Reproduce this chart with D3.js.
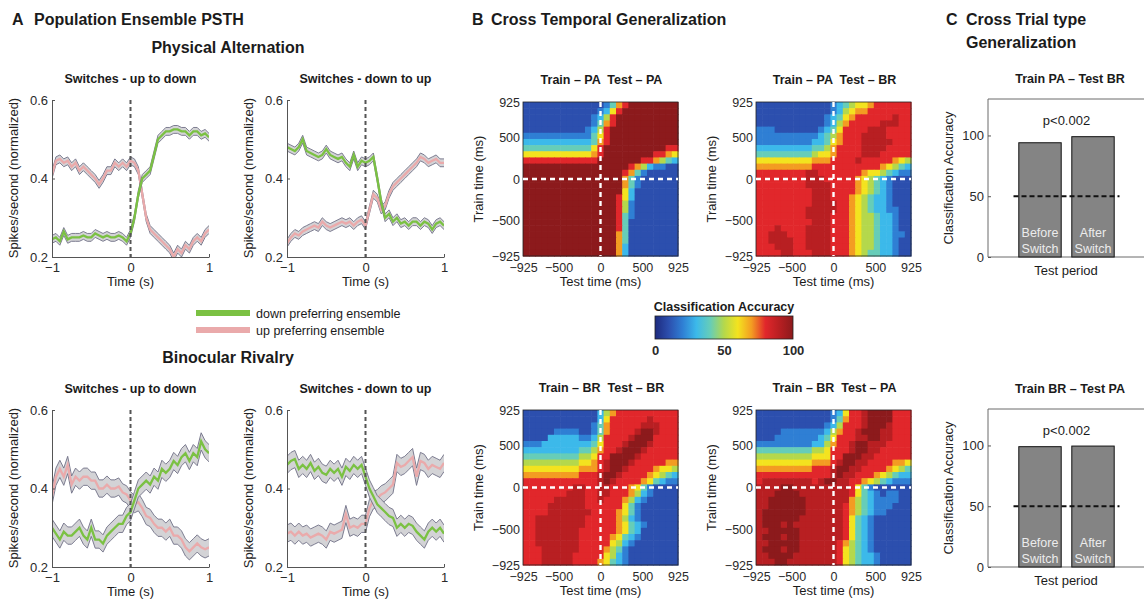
<!DOCTYPE html>
<html>
<head>
<meta charset="utf-8">
<script src="https://cdn.jsdelivr.net/npm/d3@7"></script>
<style>
  body { margin: 0; background: #fff; }
</style>
</head>
<body>
<script>
// ---- PSTH data (normalized spikes/s), time in s ----
const psthTime = [-1, -0.95, -0.9, -0.85, -0.8, -0.75, -0.7, -0.65, -0.6, -0.55, -0.5, -0.45, -0.4, -0.35, -0.3, -0.25, -0.2, -0.15, -0.1, -0.05,
  0, 0.05, 0.1, 0.15, 0.2, 0.25, 0.3, 0.35, 0.4, 0.45, 0.5, 0.55, 0.6, 0.65, 0.7, 0.75, 0.8, 0.85, 0.9, 0.95, 1];
const psthXTicks = [-1, 0, 1];
const psthYTicks = [0.2, 0.4, 0.6];

// physical alternation, switches up -> down
const paUpDownUp = [0.41, 0.445, 0.45, 0.44, 0.445, 0.43, 0.44, 0.42, 0.43, 0.42, 0.41, 0.40, 0.385, 0.40, 0.42, 0.42, 0.44, 0.43, 0.44, 0.43,
  0.445, 0.44, 0.42, 0.36, 0.30, 0.27, 0.26, 0.25, 0.24, 0.23, 0.22, 0.20, 0.22, 0.21, 0.23, 0.22, 0.24, 0.25, 0.24, 0.26, 0.27];
const paUpDownDown = [0.245, 0.25, 0.24, 0.265, 0.245, 0.25, 0.25, 0.25, 0.255, 0.25, 0.25, 0.26, 0.255, 0.25, 0.255, 0.25, 0.25, 0.255, 0.25, 0.24,
  0.26, 0.30, 0.36, 0.40, 0.41, 0.42, 0.46, 0.50, 0.51, 0.52, 0.52, 0.525, 0.525, 0.52, 0.52, 0.51, 0.52, 0.52, 0.51, 0.515, 0.505];
// physical alternation, switches down -> up
const paDownUpDown = [0.48, 0.475, 0.47, 0.48, 0.50, 0.47, 0.465, 0.46, 0.455, 0.46, 0.475, 0.46, 0.455, 0.45, 0.455, 0.44, 0.43, 0.46, 0.43, 0.445,
  0.44, 0.445, 0.455, 0.40, 0.34, 0.30, 0.31, 0.29, 0.30, 0.285, 0.29, 0.28, 0.29, 0.29, 0.28, 0.29, 0.285, 0.27, 0.285, 0.29, 0.28];
const paDownUpUp = [0.235, 0.25, 0.26, 0.255, 0.265, 0.27, 0.275, 0.28, 0.275, 0.29, 0.28, 0.275, 0.28, 0.285, 0.29, 0.285, 0.29, 0.28, 0.29, 0.295,
  0.28, 0.32, 0.36, 0.35, 0.32, 0.33, 0.36, 0.38, 0.39, 0.40, 0.41, 0.42, 0.43, 0.44, 0.455, 0.45, 0.44, 0.445, 0.45, 0.44, 0.44];
// binocular rivalry, switches up -> down
const brUpDownUp = [0.38, 0.43, 0.45, 0.43, 0.46, 0.41, 0.43, 0.42, 0.43, 0.43, 0.42, 0.42, 0.40, 0.40, 0.41, 0.40, 0.40, 0.405, 0.39, 0.385,
  0.37, 0.36, 0.365, 0.35, 0.33, 0.325, 0.31, 0.30, 0.30, 0.29, 0.30, 0.28, 0.28, 0.27, 0.25, 0.24, 0.25, 0.26, 0.25, 0.245, 0.25];
const brUpDownDown = [0.30, 0.285, 0.27, 0.29, 0.28, 0.28, 0.29, 0.30, 0.28, 0.27, 0.30, 0.27, 0.27, 0.26, 0.28, 0.29, 0.30, 0.31, 0.31, 0.33,
  0.34, 0.37, 0.40, 0.41, 0.42, 0.41, 0.43, 0.42, 0.45, 0.44, 0.45, 0.47, 0.46, 0.48, 0.49, 0.47, 0.49, 0.48, 0.52, 0.50, 0.49];
// binocular rivalry, switches down -> up
const brDownUpDown = [0.46, 0.47, 0.475, 0.45, 0.46, 0.45, 0.465, 0.445, 0.455, 0.44, 0.435, 0.45, 0.44, 0.45, 0.43, 0.455, 0.445, 0.46, 0.45, 0.46,
  0.43, 0.40, 0.38, 0.36, 0.35, 0.34, 0.33, 0.325, 0.30, 0.31, 0.30, 0.31, 0.305, 0.29, 0.28, 0.27, 0.29, 0.30, 0.29, 0.30, 0.285];
const brDownUpUp = [0.285, 0.29, 0.28, 0.29, 0.28, 0.285, 0.275, 0.28, 0.285, 0.28, 0.27, 0.29, 0.285, 0.29, 0.295, 0.335, 0.30, 0.305, 0.30, 0.31,
  0.31, 0.35, 0.37, 0.375, 0.385, 0.39, 0.40, 0.41, 0.465, 0.455, 0.46, 0.47, 0.48, 0.43, 0.47, 0.465, 0.45, 0.46, 0.455, 0.45, 0.465];
const semPA = 0.01;
const semBR = 0.022;

// ---- cross temporal generalization: rows = train time (925 -> -925), cols = test time (-925 -> 925)
// one hex digit per cell = accuracy / 10 (0 .. a = 0 .. 100 %), spaces only for reading
const heatTicks = [-925, -500, 0, 500, 925];
const heatPaPa = [
  "11111 11111 11124 78aaa aaaaa", "11111 11111 11236 8aaaa aaaaa", "11111 11111 12358 aaaaa aaaaa",
  "11111 11111 12478 aaaaa aaaaa", "11111 11111 2358a aaaaa aaaaa", "22222 22222 2468a aaaaa aaaaa",
  "33333 33333 3478a aaaaa aaaaa", "44444 44444 468aa aaaaa aaa88", "66666 66666 678aa aaaaa a8876",
  "88888 88888 88aaa aaaa8 87543", "aaaaa aaaaa aaaaa aa875 32211", "aaaaa aaaaa aaaaa a8742 11111",
  "aaaaa aaaaa aaaaa a7421 11111", "aaaaa aaaaa aaaaa a7421 11111", "aaaaa aaaaa aaaaa a6311 11111",
  "aaaaa aaaaa aaaaa 86311 11111", "aaaaa aaaaa aaaaa 85211 11111", "aaaaa aaaaa aaaaa 85211 11111",
  "aaaaa aaaaa aaaaa 84211 11111", "aaaaa aaaaa aaaaa 84111 11111", "aaaaa aaaaa aaaaa 84111 11111",
  "aaaaa aaaaa aaaaa 74111 11111", "aaaaa aaaaa aaaaa 74111 11111", "aaaaa aaaaa aaaaa 73111 11111",
  "aaaaa aaaaa aaaaa 73111 11111"];
const heatPaBr = [
  "11111 11111 11234 56678 88888", "11111 11111 11235 67788 88888", "11111 11111 12346 78888 88988",
  "11111 11111 12357 88888 99988", "22211 11111 23468 88899 98888", "22222 22222 34578 88999 98888",
  "22222 22223 34678 88999 99888", "33333 33334 45788 88999 98888", "44444 44445 66788 88999 88888",
  "66666 66667 77888 89888 88765", "77777 77778 88888 88888 76543", "88888 88899 88888 88766 54322",
  "88888 88899 98888 87654 32111", "88888 88899 99888 87654 32111", "88888 88889 99888 87654 32111",
  "88888 88889 99888 76543 32111", "88888 88889 99988 76543 32111", "88888 88899 99988 76543 32211",
  "88888 88899 99888 76554 33211", "88888 88889 99888 76554 33211", "88898 88899 99888 76554 33211",
  "88999 88899 99888 76554 33221", "88999 98899 99888 76554 33211", "88899 98899 99888 76554 33211",
  "88889 98889 99888 76544 33211"];
const heatBrBr = [
  "11111 11111 11357 88888 88888", "11111 11111 11368 88888 98888", "11111 11111 12478 88889 99888",
  "11111 22221 12478 8889a a9888", "11113 33332 23588 889aa a8888", "22233 33333 34688 89aaa 98888",
  "33333 33334 45788 9aaa9 88888", "44444 44445 5688a aaa98 88888", "55555 55556 6789a aa988 88877",
  "66666 66667 7789a a9888 87665", "77777 77778 889aa 98888 76543", "88888 88888 889a9 88887 64322",
  "88888 88899 88998 88764 21111", "88888 88999 88998 88753 21111", "88888 99999 88988 87532 11111",
  "88889 99999 88888 86421 11111", "88889 99999 98888 76421 11111", "88999 99999 88888 75321 11111",
  "88999 99999 88888 76432 11111", "88999 99998 88888 76431 11111", "88999 99998 88887 64321 11111",
  "88999 99998 88886 53211 11111", "88899 99998 88875 42111 11111", "88899 99988 88865 32111 11111",
  "88899 99988 88764 32111 11111"];
const heatBrPa = [
  "11111 11111 11236 889aa aa888", "11111 11111 11247 889aa aa888", "11111 11111 12358 889aa a9888",
  "11112 22222 23578 89aaa 99888", "11122 22222 34688 899aa 99888", "22222 22223 35788 9aa99 98888",
  "44444 44445 56888 9aa99 88888", "55555 55556 6688a aa998 88888", "66666 66667 7789a a9988 88776",
  "77777 77778 889aa 99888 87654", "88888 88888 889a9 98887 65433", "89999 99998 9aa99 88765 43222",
  "9999a a9999 99999 86421 11111", "999aa aa999 99999 86432 12211", "99aaa aaa99 99999 75432 22211",
  "99aaa aaa99 99998 75432 22111", "9aaaa aaa99 99998 75432 21111", "9aaaa aa999 99998 64321 11111",
  "9aaa9 a9999 99998 64321 11111", "99aaa aa999 99998 64321 11111", "9aaa9 aa999 99998 64321 11111",
  "99aaa aa999 99987 54321 11111", "9aaa9 aa999 99986 54321 11111", "99aaa a9999 99986 54332 11111",
  "999aa 99999 99986 54332 11111"];

// ---- cross trial type generalization ----
const barPeriods = ["Before Switch", "After Switch"];
const paToBrAcc = [94, 99];
const brToPaAcc = [99, 99.5];
const chanceLevel = 50;
const barTicks = [0, 50, 100];

// jet-like colour map, as in the figure
const accStops = [0, 10, 20, 30, 40, 50, 60, 70, 80, 90, 100];
const jetColors = ["#1d2a7e", "#2c4fae", "#2f7fd4", "#3cb9ea", "#66cdb8", "#b4d84c", "#f3e31f", "#f39c22", "#e1272b", "#b81f22", "#8c1a1c"];
const accColor = d3.scaleLinear().domain(accStops).range(jetColors);

const downColor = "#7bc143";
const upColor = "#eaaaab";

const W = 1144, H = 605;
const svg = d3.select("body").append("svg")
  .attr("width", W).attr("height", H)
  .style("font-family", "'Liberation Sans', Arial, Helvetica, sans-serif");
svg.append("rect").attr("width", W).attr("height", H).attr("fill", "#fff");

const label = (x, y, txt, size, weight, anchor) =>
  svg.append("text")
    .attr("x", x).attr("y", y)
    .attr("font-size", size)
    .attr("font-weight", weight || "normal")
    .attr("text-anchor", anchor || "start")
    .attr("fill", "#1b1b1b")
    .text(txt);

const vlabel = (x, y, txt, size) =>
  svg.append("text")
    .attr("transform", `translate(${x},${y}) rotate(-90)`)
    .attr("font-size", size)
    .attr("text-anchor", "middle")
    .attr("fill", "#222")
    .text(txt);

const styleAxis = (ax, size) => {
  ax.select(".domain").attr("stroke", "#555");
  ax.selectAll(".tick line").attr("stroke", "#555");
  ax.selectAll("text").attr("font-size", size).attr("fill", "#2a2a2a").attr("font-family", null);
};

let clipCount = 0;
const renderPsth = (cfg) => {
  const g = svg.append("g");
  const x = d3.scaleLinear().domain([-1, 1]).range([cfg.left, cfg.left + 157]);
  const y = d3.scaleLinear().domain([0.2, 0.6]).range([cfg.top + 157, cfg.top]);
  const id = `clip${clipCount++}`;
  g.append("clipPath").attr("id", id).append("rect")
    .attr("x", x(-1)).attr("y", y(0.6) - 2)
    .attr("width", x(1) - x(-1)).attr("height", y(0.2) - y(0.6) + 2);
  const plot = g.append("g").attr("clip-path", `url(#${id})`);

  [[cfg.up, upColor], [cfg.down, downColor]].forEach(([vals, colour]) => {
    const pts = psthTime.map((t, i) => ({ t, v: vals[i] }));
    plot.append("path").datum(pts)
      .attr("d", d3.area().x((d) => x(d.t)).y0((d) => y(d.v - cfg.sem)).y1((d) => y(d.v + cfg.sem)))
      .attr("fill", "#d3d3d6");
    [-1, 1].forEach((s) =>
      plot.append("path").datum(pts)
        .attr("d", d3.line().x((d) => x(d.t)).y((d) => y(d.v + s * cfg.sem)))
        .attr("fill", "none").attr("stroke", "#707087").attr("stroke-width", 0.9));
    plot.append("path").datum(pts)
      .attr("d", d3.line().x((d) => x(d.t)).y((d) => y(d.v)))
      .attr("fill", "none").attr("stroke", colour).attr("stroke-width", 2.3);
  });

  g.append("line")
    .attr("x1", x(0)).attr("x2", x(0)).attr("y1", y(0.6)).attr("y2", y(0.2))
    .attr("stroke", "#555").attr("stroke-width", 2).attr("stroke-dasharray", "4,3");

  const xAx = g.append("g").attr("transform", `translate(0,${y(0.2)})`)
    .call(d3.axisBottom(x).tickValues(psthXTicks).tickFormat(d3.format("d"))
      .tickSizeInner(-3).tickSizeOuter(0).tickPadding(6));
  styleAxis(xAx, 13);
  const yAx = g.append("g").attr("transform", `translate(${x(-1)},0)`)
    .call(d3.axisLeft(y).tickValues(psthYTicks).tickFormat(d3.format(".1f"))
      .tickSizeInner(-3).tickSizeOuter(0).tickPadding(4));
  styleAxis(yAx, 13);

  label(cfg.left + 78.5, cfg.top - 17, cfg.title, 12.5, "bold", "middle");
  label(cfg.left + 78.5, cfg.top + 186, "Time (s)", 13, "normal", "middle");
  vlabel(cfg.left - 34, cfg.top + 78, "Spikes/second (normalized)", 13);
};

const renderHeat = (cfg) => {
  const g = svg.append("g");
  const grid = cfg.rows.map((r) => r.replace(/ /g, ""));
  const n = grid.length;
  const x = d3.scaleLinear().domain([-925, 925]).range([cfg.left, cfg.left + cfg.w]);
  const y = d3.scaleLinear().domain([-925, 925]).range([cfg.top + cfg.h, cfg.top]);
  const col = d3.scaleBand().domain(d3.range(n)).range([cfg.left, cfg.left + cfg.w]);
  const row = d3.scaleBand().domain(d3.range(n)).range([cfg.top, cfg.top + cfg.h]);
  const cells = grid.flatMap((r, ri) =>
    r.split("").map((ch, ci) => ({ ri, ci, acc: parseInt(ch, 16) * 10 })));

  g.selectAll(null).data(cells).join("rect")
    .attr("x", (d) => col(d.ci))
    .attr("y", (d) => row(d.ri))
    .attr("width", col.bandwidth() + 0.6)
    .attr("height", row.bandwidth() + 0.6)
    .attr("fill", (d) => accColor(d.acc));

  g.append("rect")
    .attr("x", cfg.left).attr("y", cfg.top).attr("width", cfg.w).attr("height", cfg.h)
    .attr("fill", "none").attr("stroke", "#222").attr("stroke-width", 0.8);

  g.append("line")
    .attr("x1", x(0)).attr("x2", x(0)).attr("y1", cfg.top).attr("y2", cfg.top + cfg.h)
    .attr("stroke", "#fff").attr("stroke-width", 2.4).attr("stroke-dasharray", "5,4");
  g.append("line")
    .attr("x1", cfg.left).attr("x2", cfg.left + cfg.w).attr("y1", y(0)).attr("y2", y(0))
    .attr("stroke", "#fff").attr("stroke-width", 2.4).attr("stroke-dasharray", "5,4");

  const xAx = g.append("g").attr("transform", `translate(0,${cfg.top + cfg.h})`)
    .call(d3.axisBottom(x).tickValues(heatTicks).tickSize(0).tickPadding(7));
  xAx.select(".domain").remove();
  styleAxis(xAx, 12.5);
  const yAx = g.append("g").attr("transform", `translate(${cfg.left},0)`)
    .call(d3.axisLeft(y).tickValues(heatTicks).tickSize(0).tickPadding(3));
  yAx.select(".domain").remove();
  styleAxis(yAx, 12.5);

  label(cfg.left + cfg.w / 2 + 1, cfg.top - 18, cfg.title, 12.5, "bold", "middle").style("white-space", "pre");
  label(cfg.left + cfg.w / 2, cfg.top + cfg.h + 30, "Test time (ms)", 13, "normal", "middle");
  vlabel(cfg.left - 40, cfg.top + cfg.h / 2, "Train time (ms)", 13);
};

const renderBars = (cfg) => {
  const g = svg.append("g");
  const bottom = cfg.top + 158;
  const y = d3.scaleLinear().domain([0, 130]).range([bottom, cfg.top]);
  const x = d3.scaleBand().domain(barPeriods)
    .range([cfg.left + 25.5, cfg.left + 131.5]).paddingInner(0.2).paddingOuter(0.1);

  g.append("path")
    .attr("d", `M${W + 2},${cfg.top}H${cfg.left}V${bottom}H${W + 2}`)
    .attr("fill", "none").attr("stroke", "#6a6a6a").attr("stroke-width", 1);

  g.selectAll(null).data(barPeriods).join("rect")
    .attr("x", (d) => x(d))
    .attr("y", (d, i) => y(cfg.values[i]))
    .attr("width", x.bandwidth())
    .attr("height", (d, i) => bottom - y(cfg.values[i]))
    .attr("fill", "#848484").attr("stroke", "#111").attr("stroke-width", 1);

  barPeriods.forEach((d) => {
    d.split(" ").forEach((word, k) =>
      g.append("text")
        .attr("x", x(d) + x.bandwidth() / 2).attr("y", bottom - 20 + k * 16)
        .attr("text-anchor", "middle").attr("font-size", 12.5).attr("fill", "#ececec")
        .text(word));
  });

  g.append("line")
    .attr("x1", x.range()[0]).attr("x2", x.range()[1])
    .attr("y1", y(chanceLevel)).attr("y2", y(chanceLevel))
    .attr("stroke", "#111").attr("stroke-width", 2).attr("stroke-dasharray", "5,3");

  const yAx = g.append("g").attr("transform", `translate(${cfg.left},0)`)
    .call(d3.axisLeft(y).tickValues(barTicks).tickSizeInner(-3).tickSizeOuter(0).tickPadding(4));
  yAx.select(".domain").remove();
  styleAxis(yAx, 13);

  label((x.range()[0] + x.range()[1]) / 2, cfg.top + 26, "p<0.002", 13, "normal", "middle");
  label(cfg.left + 82, cfg.top - 16, cfg.title, 12.5, "bold", "middle");
  label(cfg.left + 78, bottom + 18, "Test period", 13, "normal", "middle");
  vlabel(cfg.left - 35, cfg.top + 79, "Classification Accuracy", 13);
};

// ---- section headings ----
label(12, 25, "A", 16, "bold");
label(34, 25, "Population Ensemble PSTH", 16, "bold");
label(228, 53, "Physical Alternation", 16, "bold", "middle");
label(228, 363, "Binocular Rivalry", 16, "bold", "middle");
label(472, 25, "B", 16, "bold");
label(491, 25, "Cross Temporal Generalization", 16, "bold");
label(946, 25, "C", 16, "bold");
label(966, 25, "Cross Trial type", 16, "bold");
label(966, 48, "Generalization", 16, "bold");

// ---- panel A ----
renderPsth({ left: 52, top: 100, title: "Switches - up to down", up: paUpDownUp, down: paUpDownDown, sem: semPA });
renderPsth({ left: 287, top: 100, title: "Switches - down to up", up: paDownUpUp, down: paDownUpDown, sem: semPA });
renderPsth({ left: 52, top: 410, title: "Switches - up to down", up: brUpDownUp, down: brUpDownDown, sem: semBR });
renderPsth({ left: 287, top: 410, title: "Switches - down to up", up: brDownUpUp, down: brDownUpDown, sem: semBR });

// legend
[["down preferring ensemble", downColor, 313], ["up preferring ensemble", upColor, 330]].forEach(([name, colour, ly]) => {
  svg.append("line").attr("x1", 196).attr("x2", 250).attr("y1", ly).attr("y2", ly)
    .attr("stroke", colour).attr("stroke-width", 6);
  label(256, ly + 4.5, name, 12.5);
});

// ---- panel B ----
renderHeat({ left: 523, top: 102, w: 155, h: 154, rows: heatPaPa, title: "Train \u2013 PA  Test \u2013 PA" });
renderHeat({ left: 756, top: 102, w: 155, h: 154, rows: heatPaBr, title: "Train \u2013 PA  Test \u2013 BR" });
renderHeat({ left: 523, top: 410, w: 155, h: 155, rows: heatBrBr, title: "Train \u2013 BR  Test \u2013 BR" });
renderHeat({ left: 756, top: 410, w: 155, h: 155, rows: heatBrPa, title: "Train \u2013 BR  Test \u2013 PA" });

// colour bar
const grad = svg.append("defs").append("linearGradient").attr("id", "jet");
accStops.forEach((s) => grad.append("stop").attr("offset", `${s}%`).attr("stop-color", accColor(s)));
const cbX = d3.scaleLinear().domain([0, 100]).range([655, 793]);
svg.append("rect").attr("x", 655).attr("y", 316).attr("width", 138).attr("height", 23)
  .attr("fill", "url(#jet)").attr("stroke", "#222").attr("stroke-width", 0.8);
const cbAx = svg.append("g").attr("transform", "translate(0,339)")
  .call(d3.axisBottom(cbX).tickValues([0, 50, 100]).tickSize(0).tickPadding(7));
cbAx.select(".domain").remove();
styleAxis(cbAx, 13);
cbAx.selectAll("text").attr("font-weight", "bold");
label(724, 311, "Classification Accuracy", 12.5, "bold", "middle");

// ---- panel C ----
renderBars({ left: 988, top: 99, values: paToBrAcc, title: "Train PA \u2013 Test BR" });
renderBars({ left: 988, top: 409, values: brToPaAcc, title: "Train BR \u2013 Test PA" });
</script>
</body>
</html>
